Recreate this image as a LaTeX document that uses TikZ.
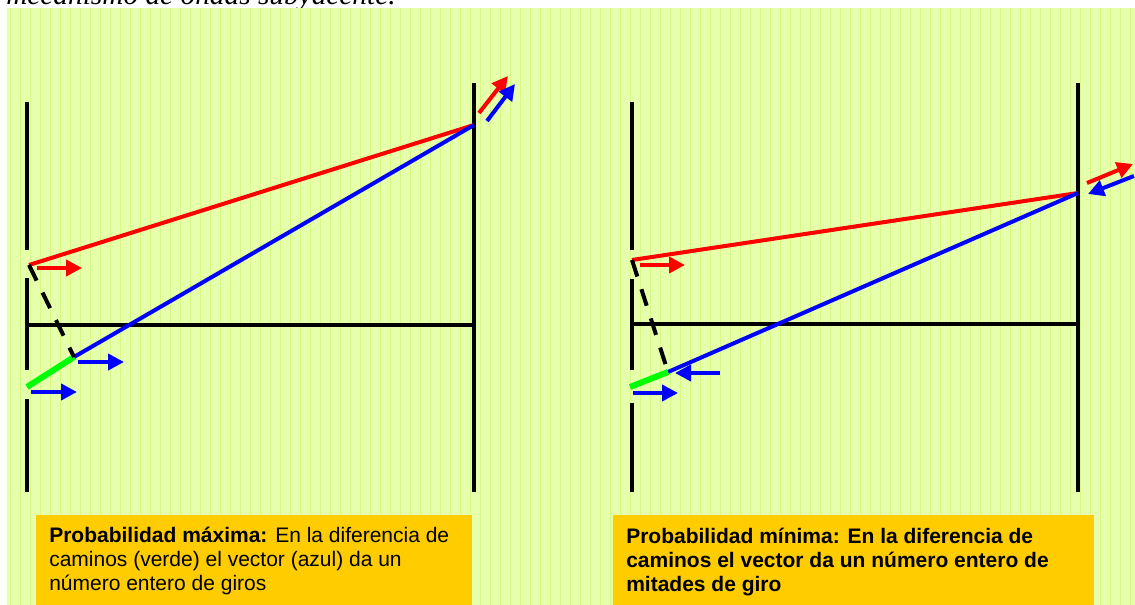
\documentclass[tikz,border=0pt]{standalone}
\usepackage{fontspec}
\usepackage{tikz}
\usetikzlibrary{arrows.meta,calc,positioning}
\newfontfamily\notefont{Liberation Sans}
\newfontfamily\pagefont{Liberation Serif}
\definecolor{paper}{RGB}{230,255,172}
\definecolor{paperline}{RGB}{216,250,130}
\definecolor{boxyellow}{RGB}{255,204,0}
\definecolor{pathgreen}{RGB}{0,255,0}
\newcommand{\notesize}{\fontsize{15.75}{18}\selectfont}

\begin{document}
\begin{tikzpicture}[x=0.75pt,y=-0.75pt,
  screen/.style={line width=3pt},
  ray/.style={line width=3pt},
  phasor/.style={line width=3pt,-{Triangle[length=12pt,width=12pt]}},
  pathdiff/.style={line width=4.5pt,pathgreen},
  guide/.style={line width=3pt,dash pattern=on 13pt off 10pt},
  note/.style={anchor=north west,inner sep=0pt,align=left,font=\notefont\notesize}]
  \useasboundingbox (0,0) rectangle (1135,605);
  \clip (0,0) rectangle (1135,605);
  \node[anchor=base west,inner sep=0pt,font=\pagefont\itshape\fontsize{22}{26}\selectfont] (heading) at (6,5) {mecanismo de ondas subyacente.};
  \fill[paper] (7,8) rectangle (1135,605);
  \draw[paperline,line width=0.4pt] (7,8) grid[step=10] (1135,605);

  \coordinate (slitAL) at (29,265);
  \coordinate (slitBL) at (27,387);
  \coordinate (diffL) at (74,357);
  \coordinate (hitL) at (474,125);
  \draw[screen] (27,102) -- (27,250) (27,278) -- (27,370) (27,399) -- (27,492);
  \draw[screen] (474,83) -- (474,492);
  \draw[screen] (27,325) -- (474,325);
  \draw[ray,red] (slitAL) -- (hitL);
  \draw[ray,blue] (diffL) -- (hitL);
  \draw[pathdiff] (slitBL) -- (diffL);
  \draw[guide] (slitAL) -- (diffL);
  \draw[phasor,red] (37,268) -- (82,268);
  \draw[phasor,blue] (78,362) -- (124,362);
  \draw[phasor,blue] (31,392) -- (77,392);
  \draw[phasor,red] (479,113) -- (508,76);
  \draw[phasor,blue] (487,121) -- (515,84);

  \coordinate (slitAR) at (632,260);
  \coordinate (slitBR) at (630,387);
  \coordinate (diffR) at (668,372);
  \coordinate (hitR) at (1078,193);
  \draw[screen] (632,102) -- (632,250) (632,279) -- (632,370) (632,403) -- (632,492);
  \draw[screen] (1078,83) -- (1078,492);
  \draw[screen] (632,324) -- (1078,324);
  \draw[ray,red] (slitAR) -- (hitR);
  \draw[ray,blue] (diffR) -- (hitR);
  \draw[pathdiff] (slitBR) -- (diffR);
  \draw[guide] (slitAR) -- (diffR);
  \draw[phasor,red] (640,265) -- (685,265);
  \draw[phasor,blue] (720,373) -- (675,373);
  \draw[phasor,blue] (633,393) -- (678,393);
  \draw[phasor,red] (1087,183) -- (1133,164);
  \draw[phasor,blue] (1134,176) -- (1088,194);

  \fill[boxyellow] (36,515) rectangle (472,605);
  \fill[boxyellow] (613,515) rectangle (1094,605);
  \node[note] (maxnote) at (49,527) {\textbf{Probabilidad máxima:} En la diferencia de\\
  caminos (verde) el vector (azul) da un\\
  número entero de giros};
  \node[note] (minnote) at (626,528) {\textbf{Probabilidad mínima: En la diferencia de}\\
  \textbf{caminos el vector da un número entero de}\\
  \textbf{mitades de giro}};
\end{tikzpicture}
\end{document}
